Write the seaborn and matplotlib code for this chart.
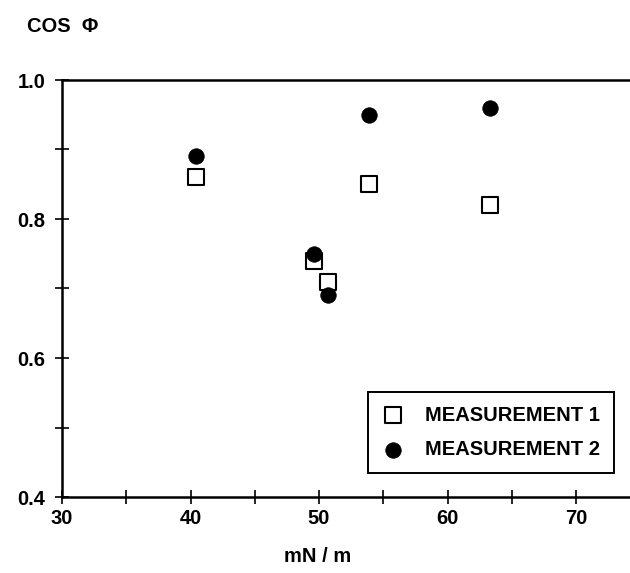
import pandas as pd
import seaborn as sns
import matplotlib.pyplot as plt
from matplotlib.ticker import MultipleLocator

# surface tension (mN/m) vs cos(phi)
x_m1 = [40.4, 49.6, 50.7, 53.9, 63.3]
y_m1 = [0.86, 0.74, 0.71, 0.85, 0.82]
x_m2 = [40.4, 49.6, 50.7, 53.9, 63.3]
y_m2 = [0.89, 0.75, 0.69, 0.95, 0.96]
labels = ["MEASUREMENT 1", "MEASUREMENT 2"]
x_ticks = [30, 40, 50, 60, 70]
y_ticks = [0.4, 0.6, 0.8, 1.0]

df1 = pd.DataFrame({"x": x_m1, "y": y_m1})
df2 = pd.DataFrame({"x": x_m2, "y": y_m2})

sns.set_style("white")
plt.rcParams["font.family"] = ["Liberation Sans", "DejaVu Sans"]
plt.rcParams["font.size"] = 14.5
plt.rcParams["font.weight"] = "bold"
plt.rcParams["text.color"] = "black"
plt.rcParams["xtick.color"] = "black"
plt.rcParams["ytick.color"] = "black"

fig = plt.figure(figsize=(6.3, 5.73), dpi=100)
ax = fig.add_axes([62 / 630, (573 - 497) / 573, 1 - 62 / 630, (497 - 80) / 573])

sns.scatterplot(data=df1, x="x", y="y", marker="s", s=135, facecolor="white",
                edgecolor="black", linewidth=1.5, label=labels[0], ax=ax, zorder=3)
sns.scatterplot(data=df2, x="x", y="y", marker="o", s=125, color="black",
                edgecolor="black", linewidth=0.5, label=labels[1], ax=ax, zorder=3)

ax.set_xlim(30, 74.2)
ax.set_ylim(0.4, 1.0)
ax.set_xticks(x_ticks)
ax.set_yticks(y_ticks)
ax.set_yticklabels([f"{v:.1f}" for v in y_ticks])
ax.xaxis.set_minor_locator(MultipleLocator(5))
ax.yaxis.set_minor_locator(MultipleLocator(0.1))
ax.tick_params(which="both", direction="inout", length=10, width=1.2,
               color="black", labelsize=14.5, bottom=True, left=True)
ax.tick_params(axis="x", pad=4)
ax.tick_params(axis="y", pad=7)

for side in ["left", "bottom", "top"]:
    ax.spines[side].set_visible(True)
    ax.spines[side].set_color("black")
    ax.spines[side].set_linewidth(1.8)
ax.spines["right"].set_visible(False)

ax.set_xlabel("")
ax.set_ylabel("")
fig.text(318 / 630, 1 - 557 / 573, "mN / m", ha="center", va="center", fontsize=14.5)
fig.text(27 / 630, 1 - 26 / 573, "COS  \u03a6", ha="left", va="center", fontsize=14.5)

ax.legend_.remove()
leg = fig.legend(loc="lower right", bbox_to_anchor=(624 / 630, (573 - 483) / 573),
                 frameon=True, fancybox=False, edgecolor="black", framealpha=1,
                 handlelength=1.0, handletextpad=1.1, labelspacing=0.75,
                 borderpad=0.7, fontsize=14.5)
leg.get_frame().set_linewidth(1.4)

fig.savefig("out.png", dpi=100)
